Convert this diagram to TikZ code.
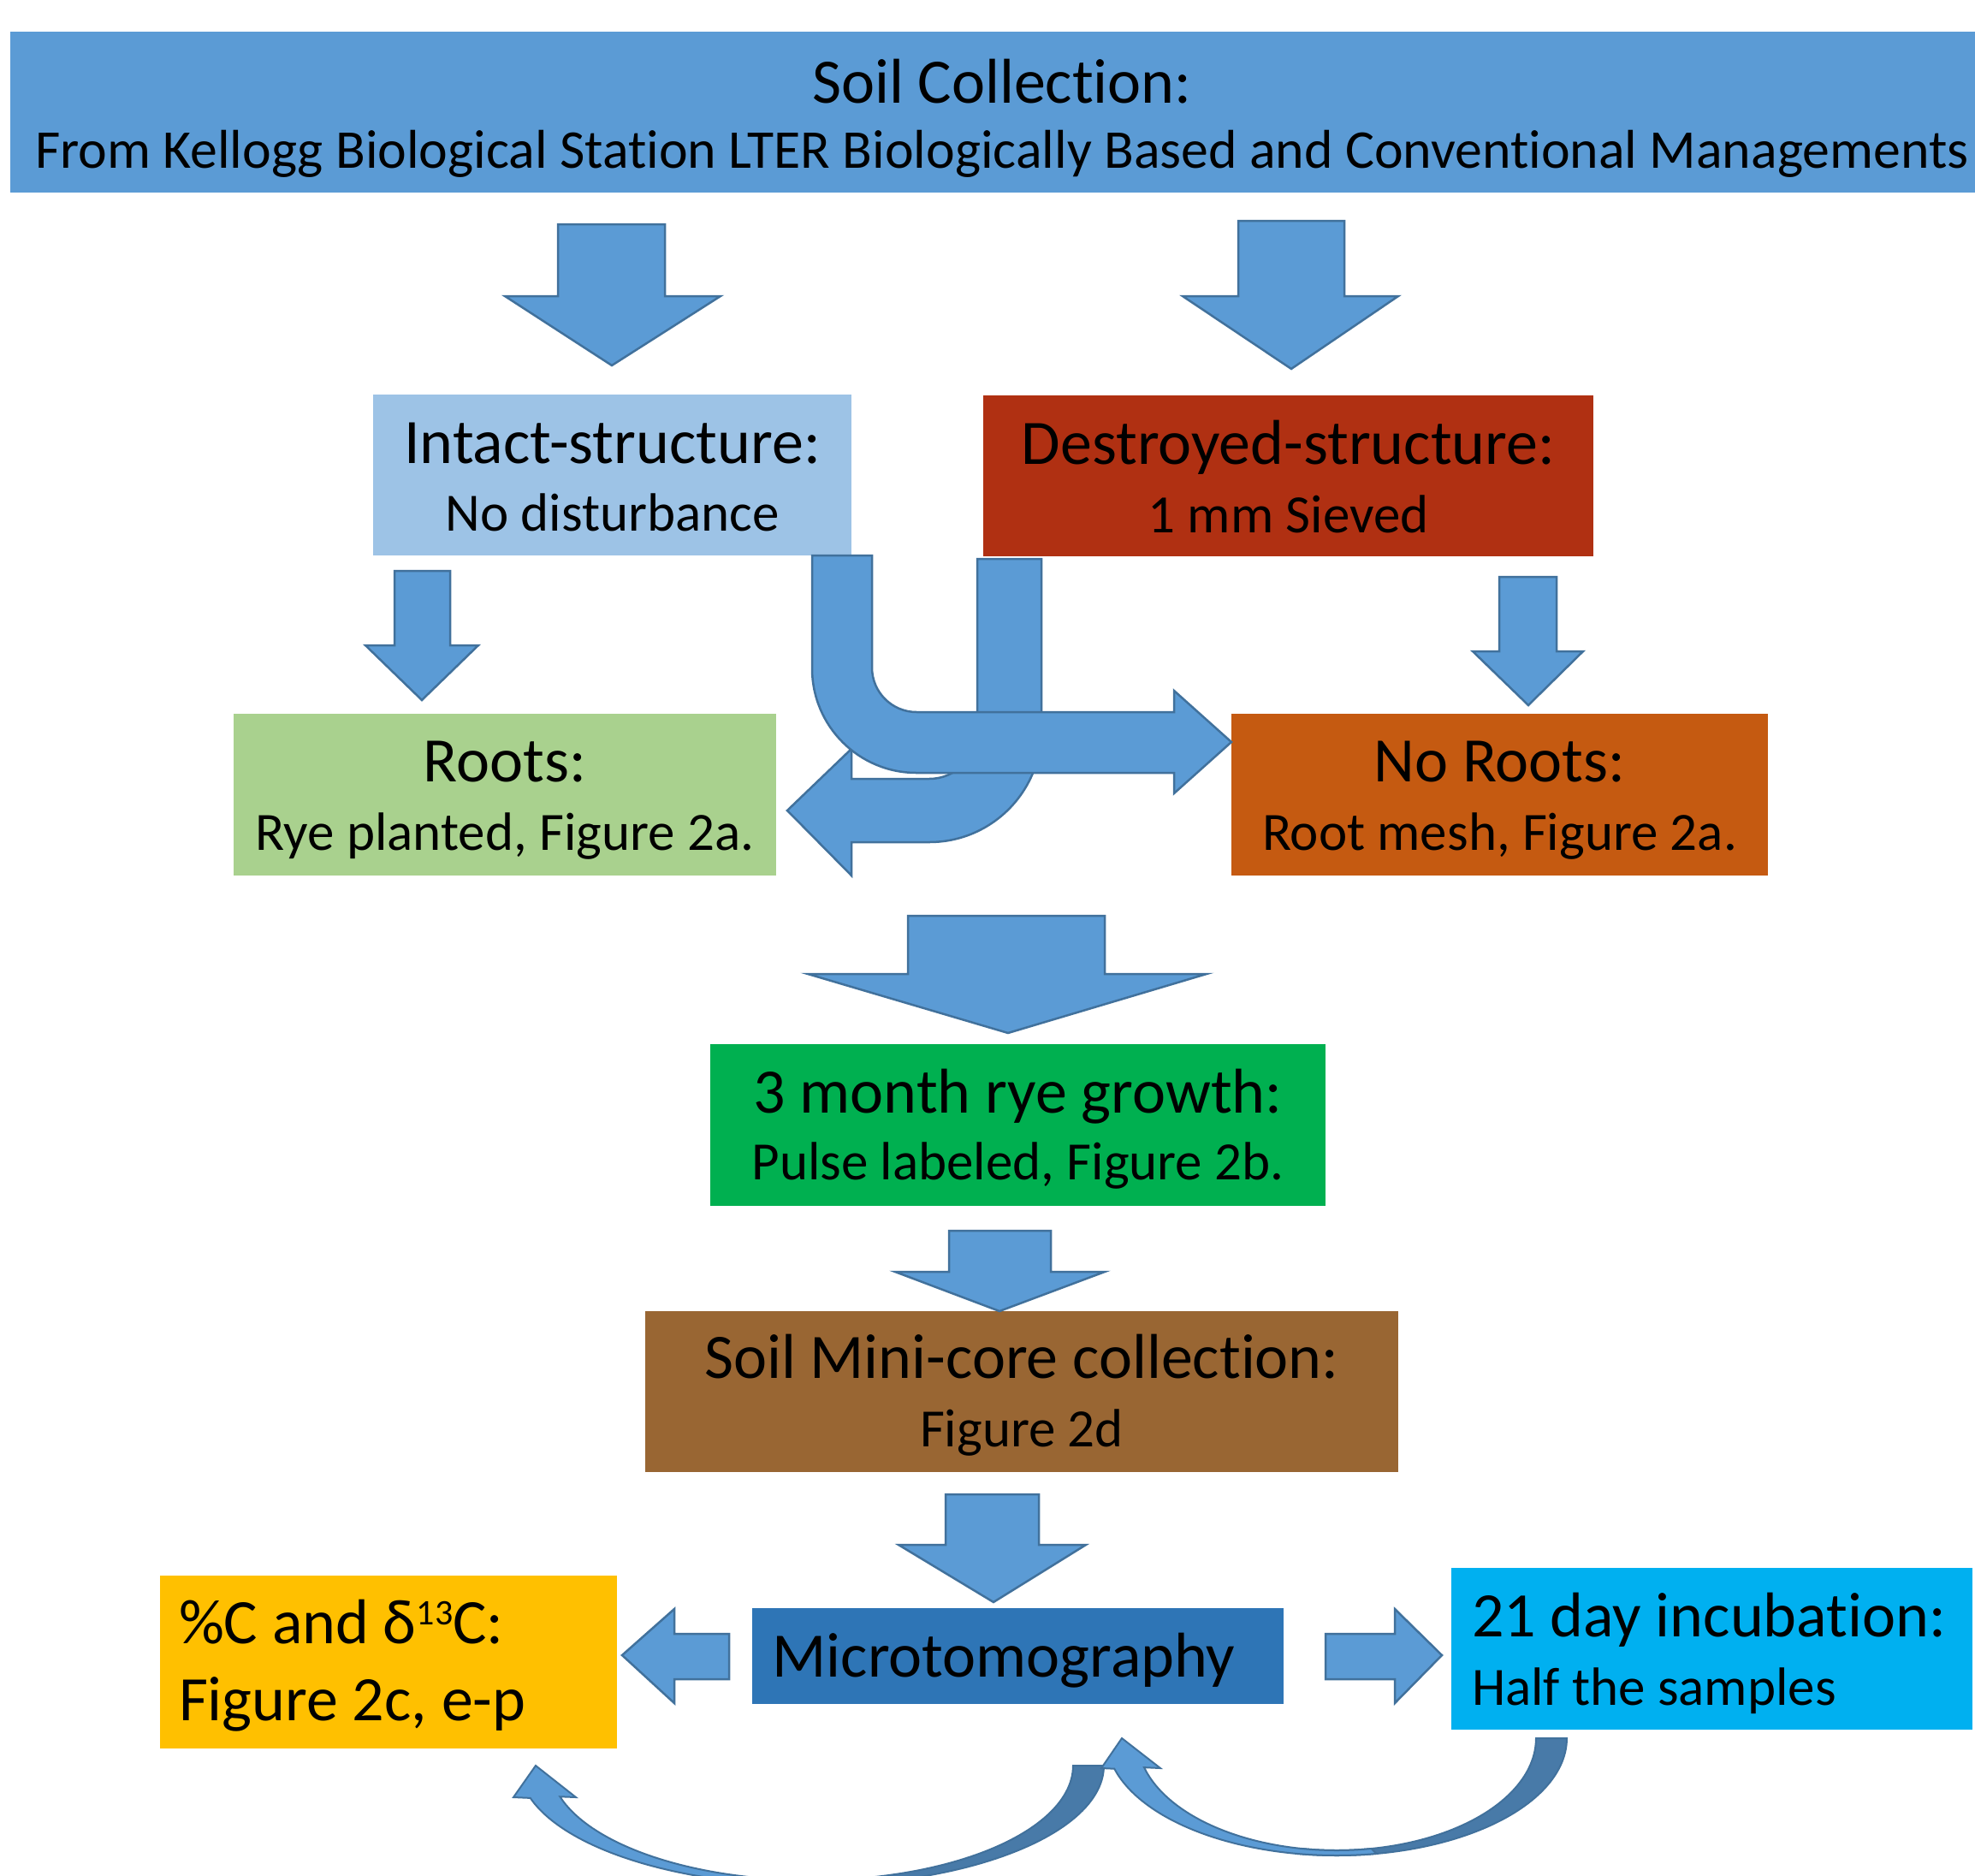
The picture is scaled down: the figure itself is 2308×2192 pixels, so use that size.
\documentclass[tikz,border=0pt]{standalone}
\usepackage{fontspec}
\setmainfont[Ligatures=NoCommon]{Carlito}
\definecolor{topblue}{HTML}{5B9BD5}
\definecolor{arrowfill}{HTML}{5B9BD5}
\definecolor{arrowline}{HTML}{41719C}
\definecolor{ribbondark}{RGB}{72,122,168}
\definecolor{intactc}{HTML}{9DC3E6}
\definecolor{destroyc}{HTML}{B03012}
\definecolor{rootsc}{HTML}{A9D18E}
\definecolor{norootsc}{HTML}{C55A11}
\definecolor{growc}{HTML}{00B050}
\definecolor{corec}{HTML}{996633}
\definecolor{microc}{HTML}{2E75B6}
\definecolor{carbonc}{HTML}{FFC000}
\definecolor{incubc}{HTML}{00B0F0}
\newcommand\headfs{\fontsize{74}{88}\selectfont}
\newcommand\subfs{\fontsize{63}{75}\selectfont}
\newcommand\topsubfs{\fontsize{63.8}{75}\selectfont}
\newcommand\supnum[1]{\raisebox{22pt}{\fontsize{42}{44}\selectfont #1}}
\tikzset{
  box/.style={rectangle, draw=none, inner sep=0pt, outer sep=0pt},
  txt/.style={inner sep=0pt, outer sep=0pt, anchor=base, text=black},
  ltxt/.style={inner sep=0pt, outer sep=0pt, anchor=base west, text=black},
  blockarrow/.style={fill=arrowfill, draw=arrowline, line width=2.5pt, line join=miter},
  lightribbon/.style={fill=arrowfill, draw=arrowline, line width=2pt, line join=miter},
  darkribbon/.style={fill=ribbondark, draw=arrowline, line width=2pt, line join=miter}
}
\begin{document}
\begin{tikzpicture}[x=1pt,y=-1pt]
\useasboundingbox (0,0) rectangle (2308,2192);
\clip (0,0) rectangle (2308,2192);

% ---------- boxes ----------
\node[box, fill=topblue, minimum width=2318pt, minimum height=188pt] (top) at (1171,131) {};
\node[box, fill=intactc, minimum width=559pt, minimum height=188pt] (intact) at (715.5,555) {};
\node[box, fill=destroyc, minimum width=713pt, minimum height=188pt] (destroyed) at (1505.5,556) {};
\node[box, fill=rootsc, minimum width=634pt, minimum height=189pt] (roots) at (590,928.5) {};
\node[box, fill=norootsc, minimum width=627pt, minimum height=189pt] (noroots) at (1752.5,928.5) {};
\node[box, fill=growc, minimum width=719pt, minimum height=189pt] (grow) at (1189.5,1314.5) {};
\node[box, fill=corec, minimum width=880pt, minimum height=188pt] (core) at (1194,1626) {};
\node[box, fill=microc, minimum width=621pt, minimum height=112pt] (micro) at (1189.5,1935) {};
\node[box, fill=carbonc, minimum width=534pt, minimum height=202pt] (carbon) at (454,1942) {};
\node[box, fill=incubc, minimum width=609pt, minimum height=189pt] (incub) at (2000.5,1926.5) {};

% ---------- texts ----------
\node[txt] (topA) at (1171,120) {\headfs Soil Collection:};
\node[txt] (topB) at (1171,196) {\topsubfs From Kellogg Biological Station LTER Biologically Based and Conventional Managements};
\node[txt] (intactA) at (715.5,541) {\headfs Intact-structure:};
\node[txt] (intactB) at (715.5,620) {\subfs No disturbance};
\node[txt] (destroyedA) at (1505.5,542) {\headfs Destroyed-structure:};
\node[txt] (destroyedB) at (1505.5,622) {\subfs 1 mm Sieved};
\node[txt] (rootsA) at (590,913) {\headfs Roots:};
\node[txt] (rootsB) at (590,993) {\subfs Rye planted, Figure 2a.};
\node[txt] (norootsA) at (1752.5,913) {\headfs No Roots:};
\node[txt] (norootsB) at (1752.5,993) {\subfs Root mesh, Figure 2a.};
\node[txt] (growA) at (1189.5,1300) {\headfs 3 month rye growth:};
\node[txt] (growB) at (1189.5,1378) {\subfs Pulse labeled, Figure 2b.};
\node[txt] (coreA) at (1194,1610) {\headfs Soil Mini-core collection:};
\node[txt] (coreB) at (1194,1690) {\subfs Figure 2d};
\node[txt] (microA) at (1173,1959) {\headfs Microtomography};
\node[ltxt] (carbonA) at (209,1920) {\headfs \%C and δ\supnum{13}C:};
\node[ltxt] (carbonB) at (209,2010) {\headfs Figure 2c, e-p};
\node[ltxt] (incubA) at (1720,1912) {\headfs 21 day incubation:};
\node[ltxt] (incubB) at (1720,1992) {\subfs Half the samples};

% ---------- straight block arrows ----------
\draw[blockarrow] (652,262) -- (777,262) -- (777,346) -- (842,346) -- (715,427) -- (590,346) -- (652,346) -- cycle;
\draw[blockarrow] (1447,258) -- (1571,258) -- (1571,346) -- (1634,346) -- (1509,431) -- (1382,346) -- (1447,346) -- cycle;
\draw[blockarrow] (461,667) -- (526,667) -- (526,754) -- (559,754) -- (493,818) -- (427,754) -- (461,754) -- cycle;
\draw[blockarrow] (1752,674) -- (1819,674) -- (1819,761) -- (1850,761) -- (1786,824) -- (1721,761) -- (1752,761) -- cycle;
\draw[blockarrow] (1061,1070) -- (1291,1070) -- (1291,1138) -- (1410,1138) -- (1178,1207) -- (944,1138) -- (1061,1138) -- cycle;
\draw[blockarrow] (1109,1438) -- (1228,1438) -- (1228,1486) -- (1291,1486) -- (1168,1532) -- (1046,1486) -- (1109,1486) -- cycle;
\draw[blockarrow] (1105,1746) -- (1214,1746) -- (1214,1805) -- (1269,1805) -- (1161,1872) -- (1050,1805) -- (1105,1805) -- cycle;
\draw[blockarrow] (852,1909) -- (852,1962) -- (788,1962) -- (788,1990) -- (727,1934) -- (788,1880) -- (788,1909) -- cycle;
\draw[blockarrow] (1549,1909) -- (1630,1909) -- (1630,1880) -- (1685,1934) -- (1630,1990) -- (1630,1962) -- (1549,1962) -- cycle;

% ---------- bent arrows ----------
% destroyed -> roots (behind)
\draw[blockarrow] (1142,653) -- (1217,653) -- (1217,853)
  .. controls (1217,925.4) and (1158.4,984) .. (1086,984)
  -- (995,984) -- (995,1023) -- (920,947) -- (995,875) -- (995,910) -- (1086,910)
  .. controls (1116.9,910) and (1142,884.9) .. (1142,854) -- cycle;
% intact -> no roots (front)
\draw[blockarrow] (949,649) -- (1019,649) -- (1019,780)
  .. controls (1019,808.7) and (1042.3,832) .. (1071,832)
  -- (1372,832) -- (1372,807) -- (1439,867) -- (1372,927) -- (1372,903) -- (1071,903)
  .. controls (1003.6,903) and (949,848.4) .. (949,781) -- cycle;

% ---------- curved arrows at the bottom ----------
% micro -> carbon
\draw[darkribbon] plot[domain=0:100, samples=60, variable=\t] ({948.5+341.5*cos(\t)},{2063+140*sin(\t)})
  -- plot[domain=100:0, samples=60, variable=\t] ({948.5+305.5*cos(\t)},{2063+134*sin(\t)}) -- cycle;
\draw[lightribbon] plot[domain=80:164.3, samples=60, variable=\t] ({948.5+341.5*cos(\t)},{2063+140*sin(\t)})
  -- (600,2100) -- (626,2063) -- (673,2100)
  -- plot[domain=164.3:80, samples=60, variable=\t] ({948.5+305.5*cos(\t)},{2063+134*sin(\t)}) -- cycle;
% incubation -> micro
\draw[darkribbon] plot[domain=0:100, samples=60, variable=\t] ({1562+269*cos(\t)},{2031+137*sin(\t)})
  -- plot[domain=100:0, samples=60, variable=\t] ({1562+233*cos(\t)},{2031+131*sin(\t)}) -- cycle;
\draw[lightribbon] plot[domain=80:164.9, samples=60, variable=\t] ({1562+269*cos(\t)},{2031+137*sin(\t)})
  -- (1287,2066) -- (1311,2031) -- (1356,2066)
  -- plot[domain=164.9:80, samples=60, variable=\t] ({1562+233*cos(\t)},{2031+131*sin(\t)}) -- cycle;
\end{tikzpicture}
\end{document}
